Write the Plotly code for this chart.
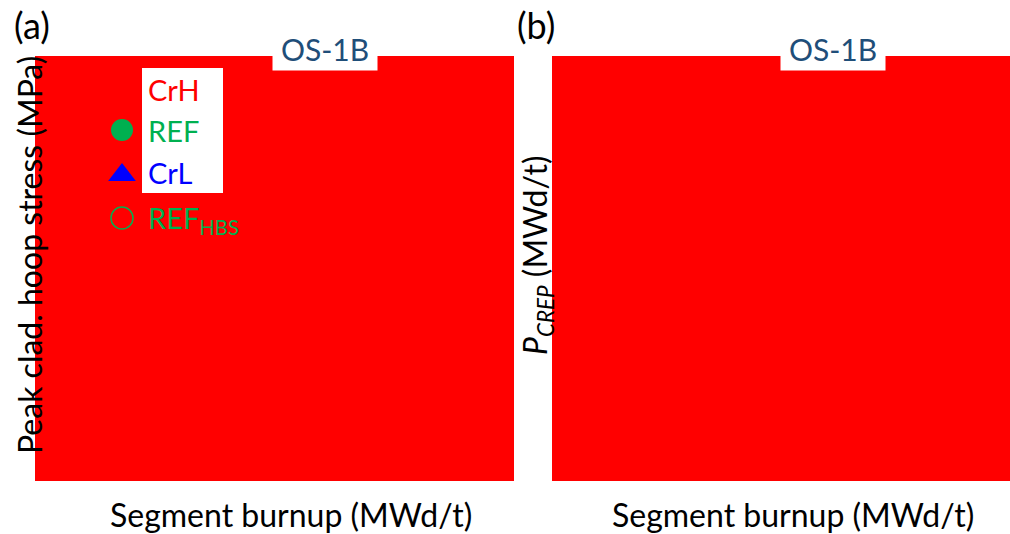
import plotly.graph_objects as go

# Figure canvas (px)
W, H = 1010, 534
FONT = "Lato"

# Legend entries for panel (a)
legend_labels = ["CrH", "REF", "CrL", "REF<sub>HBS</sub>"]
legend_colors = ["#FF0000", "#00B050", "#0000FF", "#00B050"]
legend_symbols = ["square", "circle", "triangle-up", "circle-open"]

# Panel titles and axis titles
panel_tags = ["(a)", "(b)"]
case_name = "OS-1B"
x_title = "Segment burnup (MWd/t)"
y_titles = ["Peak clad. hoop stress (MPa)", "<i>P</i><sub><i>CREP</i></sub> (MWd/t)"]

PLOT_BG = "#FF0000"
CASE_COLOR = "#1F4E79"


def px(x):
    return x / W


def py(y):
    return 1 - y / H


# Panel rectangles in px: (left, right, top, bottom)
panels = [(35, 514, 56, 481), (552, 1010, 56, 481)]

fig = go.Figure()

layout_axes = {}
for i, (l, r, t, b) in enumerate(panels):
    sfx = "" if i == 0 else str(i + 1)
    layout_axes["xaxis" + sfx] = dict(domain=[px(l), px(r)], range=[0, 1], visible=False,
                                      anchor="y" + sfx, fixedrange=True)
    layout_axes["yaxis" + sfx] = dict(domain=[py(b), py(t)], range=[0, 1], visible=False,
                                      anchor="x" + sfx, fixedrange=True)

# Legend marker placement inside panel (a), in axis fractions
l, r, t, b = panels[0]
leg_x_px = 122
leg_rows_px = [90, 130, 175, 218]
mx = [(leg_x_px - l) / (r - l)] * len(legend_labels)
my = [(b - yy) / (b - t) for yy in leg_rows_px]
sizes = [22, 22, 24, 22]

fig.add_trace(go.Scatter(
    x=mx, y=my, mode="markers", xaxis="x", yaxis="y", showlegend=False, hoverinfo="skip",
    marker=dict(symbol=legend_symbols, color=legend_colors, size=sizes, opacity=1,
                line=dict(color=legend_colors, width=[0, 0, 0, 1.5])),
))
# empty trace so the second panel is drawn
fig.add_trace(go.Scatter(x=[None], y=[None], xaxis="x2", yaxis="y2", showlegend=False))

shapes = [
    # white backing behind the first three legend labels
    dict(type="rect", xref="paper", yref="paper", x0=px(142), x1=px(223), y0=py(193), y1=py(68),
         fillcolor="white", line=dict(width=0), layer="above"),
]

annotations = []
# Legend texts
text_rows_px = [90, 130.5, 172, 219]
for lab, col, yy in zip(legend_labels, legend_colors, text_rows_px):
    annotations.append(dict(
        text=lab, xref="paper", yref="paper", x=px(146), y=py(yy),
        xanchor="left", yanchor="middle", showarrow=False,
        font=dict(family=FONT, size=29, color=col)))

for i, (l, r, t, b) in enumerate(panels):
    # Panel tag
    annotations.append(dict(
        text=panel_tags[i], xref="paper", yref="paper", x=px(32 if i == 0 else 536), y=py(25),
        xanchor="center", yanchor="middle", showarrow=False,
        font=dict(family=FONT, size=36, color="black")))
    # Case label box
    cx = 325 if i == 0 else 833
    annotations.append(dict(
        text=case_name, xref="paper", yref="paper", x=px(cx), y=py(49),
        xanchor="center", yanchor="middle", showarrow=False,
        width=104, height=42, borderpad=0, bgcolor="white",
        font=dict(family=FONT, size=30, color=CASE_COLOR)))
    # x-axis title
    annotations.append(dict(
        text=x_title, xref="paper", yref="paper", x=px(291 if i == 0 else 793), y=py(514),
        xanchor="center", yanchor="middle", showarrow=False,
        font=dict(family=FONT, size=32, color="black")))
    # y-axis title
    annotations.append(dict(
        text=y_titles[i], xref="paper", yref="paper", x=px(30 if i == 0 else 537), y=py(255),
        xanchor="center", yanchor="middle", showarrow=False, textangle=-90,
        font=dict(family=FONT, size=32, color="black")))

fig.update_layout(
    width=W, height=H,
    margin=dict(l=0, r=0, t=0, b=0),
    paper_bgcolor="white",
    plot_bgcolor=PLOT_BG,
    showlegend=False,
    shapes=shapes,
    annotations=annotations,
    **layout_axes,
)

fig.write_html("out.html", config={"displayModeBar": False})
